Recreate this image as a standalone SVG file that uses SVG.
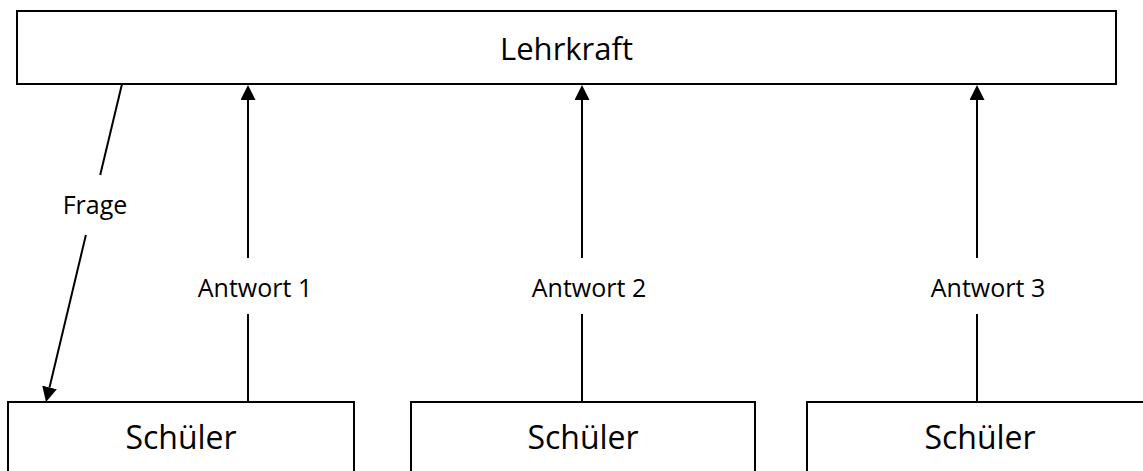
<svg xmlns="http://www.w3.org/2000/svg" width="1143" height="471" viewBox="0 0 1143 471">
  <style>
    .box { fill: #ffffff; stroke: #000000; stroke-width: 2; }
    .lbl { font-family: "Open Sans", "Noto Sans", sans-serif; fill: #000000; text-anchor: middle; }
    .big { font-size: 31px; }
    .node { font-size: 32px; }
    .small { font-size: 25px; }
    .wire { stroke: #000000; stroke-width: 2; fill: none; }
  </style>
  <defs>
    <marker id="head" markerUnits="userSpaceOnUse" markerWidth="15" markerHeight="15" refX="0" refY="7.5" orient="auto">
      <path d="M0,0 L15,7.5 L0,15 Z" fill="#000000"/>
    </marker>
  </defs>

  <rect width="1143" height="471" fill="#ffffff"/>

  <!-- teacher -->
  <g id="lehrkraft">
    <rect class="box" x="17" y="11" width="1099" height="73"/>
    <text class="lbl big" x="566.5" y="60">Lehrkraft</text>
  </g>

  <!-- students -->
  <g id="schueler1">
    <rect class="box" x="8" y="402" width="346" height="80"/>
    <text class="lbl node" x="181" y="449">Schüler</text>
  </g>
  <g id="schueler2">
    <rect class="box" x="411" y="402" width="344" height="80"/>
    <text class="lbl node" x="583" y="449">Schüler</text>
  </g>
  <g id="schueler3">
    <rect class="box" x="807" y="402" width="346" height="80"/>
    <text class="lbl node" x="980" y="449">Schüler</text>
  </g>

  <!-- connectors -->
  <g id="connectors">
    <!-- question from teacher to first student -->
    <line class="wire" x1="122" y1="84" x2="100.2" y2="175"/>
    <line class="wire" x1="85.9" y1="235" x2="49.5" y2="387.4" marker-end="url(#head)"/>
    <text class="lbl small" x="95" y="214">Frage</text>

    <!-- answers from students to teacher -->
    <line class="wire" x1="248" y1="402" x2="248" y2="314"/>
    <line class="wire" x1="248" y1="258" x2="248" y2="100" marker-end="url(#head)"/>
    <text class="lbl small" x="255" y="297">Antwort 1</text>

    <line class="wire" x1="582" y1="402" x2="582" y2="314"/>
    <line class="wire" x1="582" y1="258" x2="582" y2="100" marker-end="url(#head)"/>
    <text class="lbl small" x="589" y="297">Antwort 2</text>

    <line class="wire" x1="977" y1="402" x2="977" y2="314"/>
    <line class="wire" x1="977" y1="258" x2="977" y2="100" marker-end="url(#head)"/>
    <text class="lbl small" x="988" y="297">Antwort 3</text>
  </g>
</svg>
